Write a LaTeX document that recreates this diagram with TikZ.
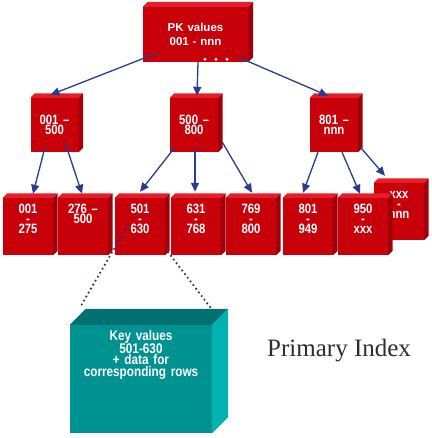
\documentclass[tikz,border=0pt]{standalone}
\usepackage{fontspec}
\setmainfont{Liberation Serif}
\newfontfamily\boxfont{Liberation Sans}[FakeStretch=0.84]
\newfontfamily\rootfont{Liberation Sans}
\usetikzlibrary{calc,arrows.meta}
\definecolor{redF}{RGB}{200,0,10}
\definecolor{redT}{RGB}{232,28,38}
\definecolor{redS}{RGB}{160,0,8}
\definecolor{tealF}{RGB}{0,145,145}
\definecolor{tealT}{RGB}{0,112,112}
\definecolor{tealS}{RGB}{0,178,178}
\definecolor{arrowblue}{RGB}{40,60,145}
\definecolor{dotblue}{RGB}{40,50,120}
\definecolor{captiongray}{RGB}{45,45,45}
\newcommand\cubefaces[4]{%
  \fill[#3] (#1.north west) -- ++(#2,-#2) -- ($(#1.north east)+(#2,-#2)$) -- (#1.north east) -- cycle;
  \fill[#4] (#1.north east) -- ++(#2,-#2) -- ($(#1.south east)+(#2,-#2)$) -- (#1.south east) -- cycle;}
\tikzset{
  box/.style={rectangle, inner sep=0pt, fill=redF, text=white, align=center},
  rootbox/.style={box, minimum width=105pt, minimum height=55pt, text width=105pt,
    text height=25pt, text depth=30pt, font=\rootfont\bfseries\fontsize{11.5}{14}\selectfont},
  midbox/.style={box, minimum width=48pt, minimum height=54pt, text width=48pt,
    text height=27pt, text depth=27pt, font=\boxfont\bfseries\fontsize{13.5}{10}\selectfont},
  leafbox/.style={box, minimum width=50pt, minimum height=57pt, text width=50pt,
    text height=15pt, text depth=42pt, font=\boxfont\bfseries\fontsize{13.5}{10}\selectfont},
  databox/.style={rectangle, inner sep=0pt, fill=tealF, text=white, align=center,
    minimum width=142pt, minimum height=108pt, text width=142pt,
    text height=15pt, text depth=93pt, font=\boxfont\bfseries\fontsize{14}{11.3}\selectfont},
  arr/.style={draw=arrowblue, line width=1.3pt, -{Triangle[length=9pt,width=8pt]}},
  dotline/.style={draw=dotblue, line width=2.4pt, dash pattern=on 0pt off 4.6pt, line cap=round},
}
\begin{document}
\begin{tikzpicture}[x=1pt,y=-1pt]
\useasboundingbox (0,0) rectangle (431,438);
% root
\node[rootbox] (r) at (195.5,34.5) {PK values\\001 - nnn};
\cubefaces{r}{5}{redT}{redS}
\fill[white] ($(r.south)+(9.5,-3)$) circle (1.6pt);
\fill[white] ($(r.south)+(20.5,-3)$) circle (1.6pt);
\fill[white] ($(r.south)+(31.5,-3)$) circle (1.6pt);
% level 2
\node[midbox] (a) at (54.5,125) {001 –\\500};
\cubefaces{a}{4.5}{redT}{redS}
\node[midbox] (b) at (194,125) {500 –\\800};
\cubefaces{b}{4.5}{redT}{redS}
\node[midbox] (c) at (334,125) {801 –\\nnn};
\cubefaces{c}{4.5}{redT}{redS}
% level 3
\node[leafbox] (d1) at (28,226.5) {001\\-\\275};
\cubefaces{d1}{4.5}{redT}{redS}
\node[leafbox] (d2) at (83,226.5) {276 –\\500};
\cubefaces{d2}{4.5}{redT}{redS}
\node[leafbox] (d3) at (140,226.5) {501\\-\\630};
\cubefaces{d3}{4.5}{redT}{redS}
\node[leafbox] (d4) at (196,226.5) {631\\-\\768};
\cubefaces{d4}{4.5}{redT}{redS}
\node[leafbox] (d5) at (251,226.5) {769\\-\\800};
\cubefaces{d5}{4.5}{redT}{redS}
\node[leafbox] (d6) at (308,226.5) {801\\-\\949};
\cubefaces{d6}{4.5}{redT}{redS}
\node[leafbox] (d8) at (399,211.5) {xxx\\-\\nnn};
\cubefaces{d8}{4.5}{redT}{redS}
\node[leafbox] (d7) at (363,226.5) {950\\-\\xxx};
\cubefaces{d7}{4.5}{redT}{redS}
% data block
\node[databox] (k) at (141,379) {Key values\\501-630\\+ data for\\corresponding rows};
\cubefaces{k}{16}{tealT}{tealS}
% caption
\node[anchor=base west, inner sep=0pt, text=captiongray, font=\fontsize{25}{30}\selectfont] (cap) at (267,356) {Primary Index};
% arrows
\draw[arr] ($(r.south west)+(14,-9)$) -- ($(a.north)+(-4,-3)$);
\draw[arr] ($(r.south)+(2.5,0)$) -- ($(b.north)+(3,-2)$);
\draw[arr] ($(r.south east)+(-10,-5)$) -- ($(c.north)+(-6,-2)$);
\draw[arr] ($(a.south)+(-9.5,-5)$) -- ($(d1.north)+(5,-4)$);
\draw[arr] ($(a.south)+(10.5,-10)$) -- ($(d2.north)+(-1,-4)$);
\draw[arr] ($(b.south)+(-19,-5)$) -- ($(d3.north)+(0,-6)$);
\draw[arr] ($(b.south)+(1,-2)$) -- ($(d4.north)+(-1,-6)$);
\draw[arr] ($(b.east)+(4,17)$) -- ($(d5.north)+(1,-5)$);
\draw[arr] ($(c.south)+(-16,0)$) -- ($(d6.north)+(-5,-5)$);
\draw[arr] ($(c.south)+(8,0)$) -- ($(d7.north)+(-3,-4)$);
\draw[arr] ($(c.east)+(2,22)$) -- ($(d8.north)+(-14,-7)$);
% dotted links
\draw[dotline] ($(d3.center)+(-12,-1.5)$) -- ($(k.north west)+(10,-17)$);
\draw[dotline] ($(d3.south east)+(3,-3)$) -- ($(k.north east)+(0,-15)$);
\end{tikzpicture}
\end{document}
